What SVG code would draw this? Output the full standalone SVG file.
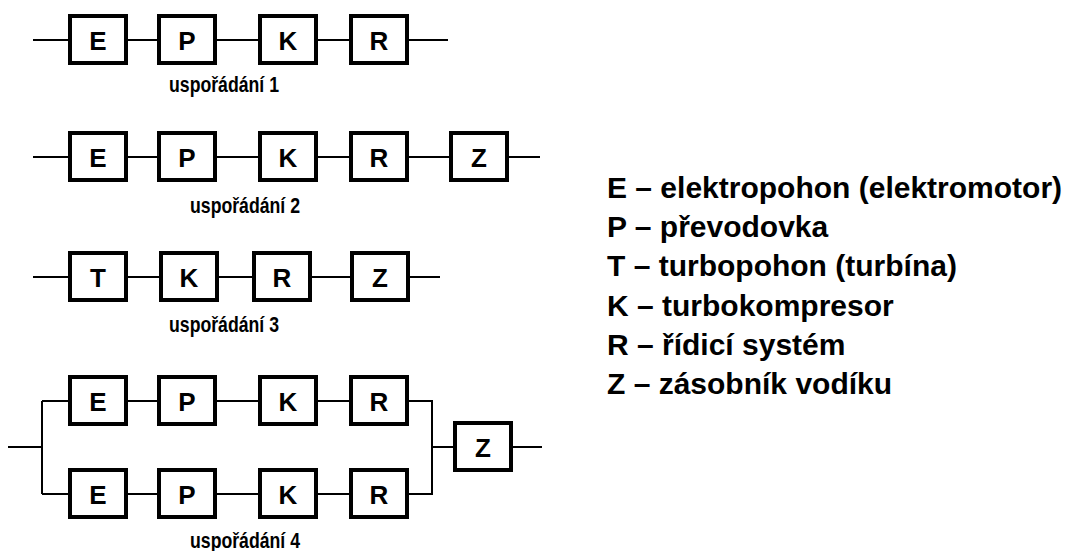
<svg xmlns="http://www.w3.org/2000/svg" width="1069" height="551" viewBox="0 0 1069 551">
  <style>
    .box rect { fill: #fff; stroke: #000; stroke-width: 4; }
    .box text { font-family: "Liberation Sans", Arial, sans-serif; font-weight: bold; font-size: 26px; text-anchor: middle; fill: #000; }
    .wire { fill: none; stroke: #000; stroke-width: 2; }
    .cap { font-family: "Liberation Sans", Arial, sans-serif; font-weight: bold; font-size: 22px; text-anchor: middle; fill: #000; }
    .legend { font-family: "Liberation Sans", Arial, sans-serif; font-weight: bold; font-size: 30px; fill: #000; }
  </style>

  <rect width="1069" height="551" fill="#fff"/>

  <!-- connectors -->
  <g id="connectors" class="wire">
    <!-- arrangement 1 -->
    <path d="M33 40H68M128 40H157M217 40H258M318 40H349M409 40H448"/>
    <!-- arrangement 2 -->
    <path d="M33 157H68M128 157H157M217 157H258M318 157H349M409 157H449M509 157H540"/>
    <!-- arrangement 3 -->
    <path d="M33 277H68M128 277H159M219 277H252M312 277H350M410 277H440"/>
    <!-- arrangement 4 -->
    <path d="M8 447H42M42 401V494M42 401H68M42 494H68"/>
    <path d="M128 401H157M217 401H258M318 401H349M128 494H157M217 494H258M318 494H349"/>
    <path d="M409 401H432V494H409M432 447H453M513 447H542"/>
  </g>

  <!-- arrangement 1 -->
  <g id="a1-E" class="box"><rect x="70" y="16" width="56" height="47"/><text x="98" y="50">E</text></g>
  <g id="a1-P" class="box"><rect x="159" y="16" width="56" height="47"/><text x="187" y="50">P</text></g>
  <g id="a1-K" class="box"><rect x="260" y="16" width="56" height="47"/><text x="288" y="50">K</text></g>
  <g id="a1-R" class="box"><rect x="351" y="16" width="56" height="47"/><text x="379" y="50">R</text></g>
  <text class="cap" x="224" y="92" textLength="110" lengthAdjust="spacingAndGlyphs">uspořádání 1</text>

  <!-- arrangement 2 -->
  <g id="a2-E" class="box"><rect x="70" y="133" width="56" height="47"/><text x="98" y="167">E</text></g>
  <g id="a2-P" class="box"><rect x="159" y="133" width="56" height="47"/><text x="187" y="167">P</text></g>
  <g id="a2-K" class="box"><rect x="260" y="133" width="56" height="47"/><text x="288" y="167">K</text></g>
  <g id="a2-R" class="box"><rect x="351" y="133" width="56" height="47"/><text x="379" y="167">R</text></g>
  <g id="a2-Z" class="box"><rect x="451" y="133" width="56" height="47"/><text x="479" y="167">Z</text></g>
  <text class="cap" x="245" y="213" textLength="110" lengthAdjust="spacingAndGlyphs">uspořádání 2</text>

  <!-- arrangement 3 -->
  <g id="a3-T" class="box"><rect x="70" y="253" width="56" height="47"/><text x="98" y="287">T</text></g>
  <g id="a3-K" class="box"><rect x="161" y="253" width="56" height="47"/><text x="189" y="287">K</text></g>
  <g id="a3-R" class="box"><rect x="254" y="253" width="56" height="47"/><text x="282" y="287">R</text></g>
  <g id="a3-Z" class="box"><rect x="352" y="253" width="56" height="47"/><text x="380" y="287">Z</text></g>
  <text class="cap" x="224" y="332" textLength="110" lengthAdjust="spacingAndGlyphs">uspořádání 3</text>

  <!-- arrangement 4 -->
  <g id="a4-E1" class="box"><rect x="70" y="377" width="56" height="47"/><text x="98" y="411">E</text></g>
  <g id="a4-P1" class="box"><rect x="159" y="377" width="56" height="47"/><text x="187" y="411">P</text></g>
  <g id="a4-K1" class="box"><rect x="260" y="377" width="56" height="47"/><text x="288" y="411">K</text></g>
  <g id="a4-R1" class="box"><rect x="351" y="377" width="56" height="47"/><text x="379" y="411">R</text></g>
  <g id="a4-E2" class="box"><rect x="70" y="470" width="56" height="47"/><text x="98" y="504">E</text></g>
  <g id="a4-P2" class="box"><rect x="159" y="470" width="56" height="47"/><text x="187" y="504">P</text></g>
  <g id="a4-K2" class="box"><rect x="260" y="470" width="56" height="47"/><text x="288" y="504">K</text></g>
  <g id="a4-R2" class="box"><rect x="351" y="470" width="56" height="47"/><text x="379" y="504">R</text></g>
  <g id="a4-Z" class="box"><rect x="455" y="423" width="56" height="47"/><text x="483" y="457">Z</text></g>
  <text class="cap" x="245" y="548" textLength="110" lengthAdjust="spacingAndGlyphs">uspořádání 4</text>

  <!-- legend -->
  <g id="legend" class="legend">
    <text x="607" y="198">E – elektropohon (elektromotor)</text>
    <text x="607" y="237">P – převodovka</text>
    <text x="607" y="276">T – turbopohon (turbína)</text>
    <text x="607" y="316">K – turbokompresor</text>
    <text x="607" y="355">R – řídicí systém</text>
    <text x="607" y="394">Z – zásobník vodíku</text>
  </g>
</svg>
